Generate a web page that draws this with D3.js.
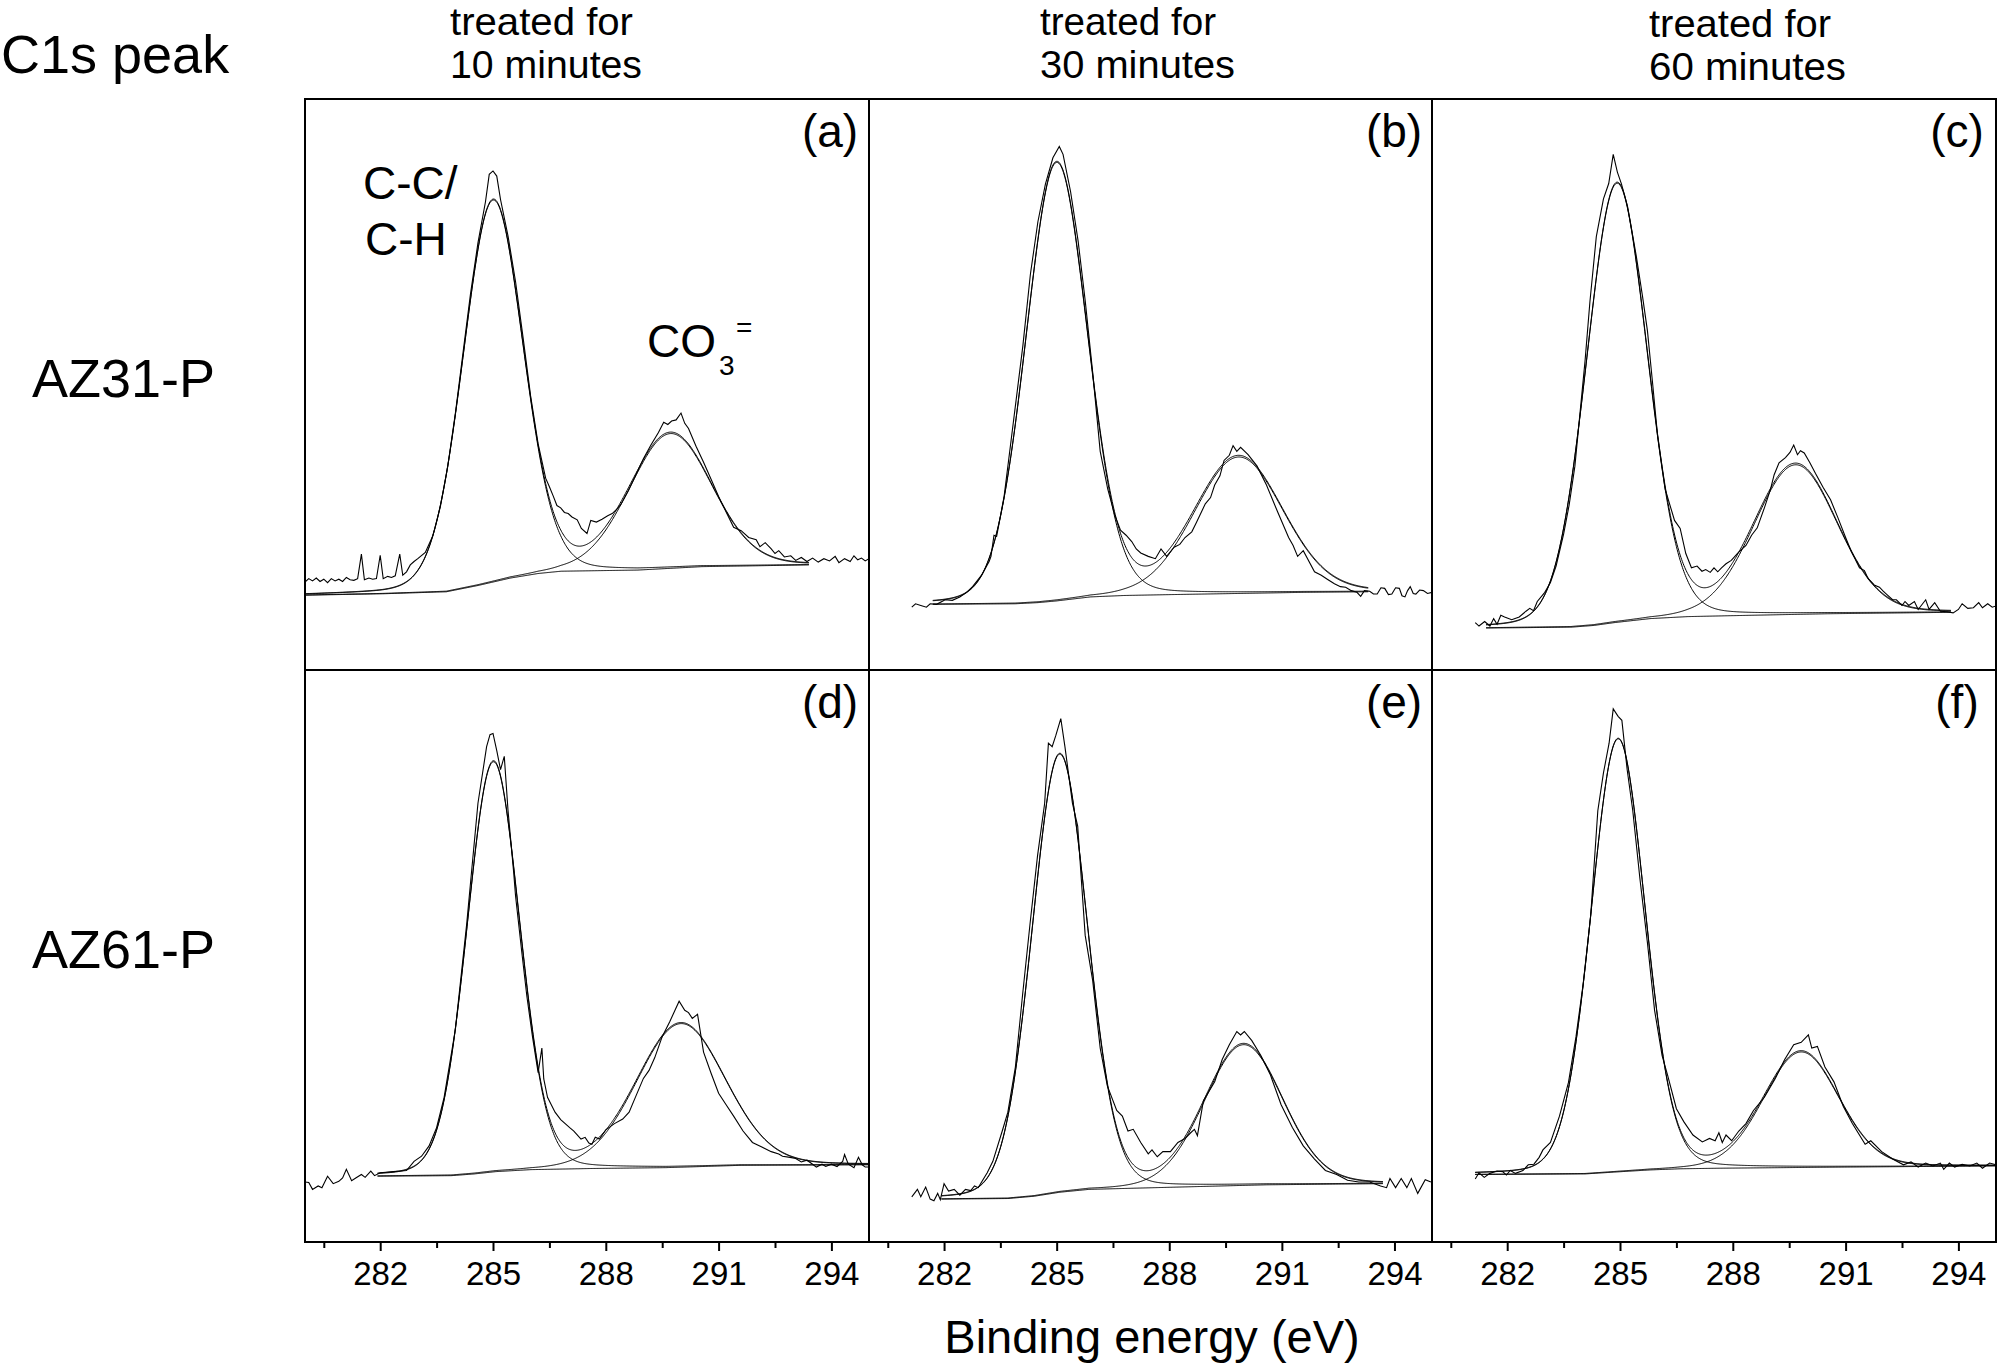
<!DOCTYPE html>
<html><head><meta charset="utf-8">
<script src="https://cdn.jsdelivr.net/npm/d3@7"></script>
<style>
body{margin:0;background:#fff}
svg{display:block}
text{font-family:"Liberation Sans",Arial,sans-serif;fill:#000}
</style>
</head><body>
<svg id="chart" width="1998" height="1365"></svg>
<script>
// ---------------- data ----------------
const panelIds = ["(a)","(b)","(c)","(d)","(e)","(f)"];
const columnHeaders = [["treated for","10 minutes"],["treated for","30 minutes"],["treated for","60 minutes"]];
const rowLabels = ["AZ31-P","AZ61-P"];
const majorTicks = [282,285,288,291,294];
const minorTicks = [280.5,283.5,286.5,289.5,292.5];
const xDomain = [280,295];
const yDomain = [0,100];          // arbitrary intensity units (counts, scaled)
const lorentzFraction = 0.1;

// fitted components per panel: [centre (eV), height above background, sigma (eV)]
const peakCC  = [[285.00,66.9,0.80],[285.00,76.8,0.82],[284.92,76.9,0.81],[285.01,71.7,0.70],[285.08,76.6,0.74],[284.95,75.7,0.72]];
const peakCO3 = [[289.72,23.6,1.10],[289.85,23.9,1.18],[289.67,26.2,1.11],[290.00,25.1,1.18],[289.98,24.6,1.05],[289.82,20.2,1.00]];

// Shirley-type backgrounds [eV, intensity]
const bgA = [[280,13.1],[282.07,13.35],[283.76,13.7],[284.6,14.8],[285.46,16.1],[286.2,16.9],[286.81,17.3],[288.85,17.5],[290.55,18.1],[293.4,18.4]];
const bgB = [[281.7,11.5],[283.9,11.6],[284.5,11.8],[285.0,12.1],[285.9,12.8],[286.8,13.05],[288.0,13.2],[291.6,13.6],[293.3,13.7]];
const bgC = [[281.44,7.35],[283.7,7.5],[284.3,7.8],[284.85,8.3],[285.8,9.0],[286.8,9.35],[287.87,9.5],[290.5,9.85],[293.8,10.1]];
const bgD = [[281.93,11.5],[283.9,11.6],[284.5,11.9],[285.07,12.3],[286.0,12.65],[287.63,12.85],[289.6,13.0],[291.57,13.4],[295,13.5]];
const bgE = [[281.93,7.5],[283.7,7.6],[284.4,8.0],[285.08,8.7],[285.86,9.2],[287.63,9.5],[290.59,10.0],[293.69,10.2]];
const bgF = [[281.15,11.8],[284.07,11.9],[285.04,12.3],[285.8,12.6],[286.6,12.8],[287.67,12.9],[291.0,13.1],[295,13.3]];

// measured spectra [eV, intensity]
const rawA = [[280.0,15.4],[280.1,16.0],[280.2,15.6],[280.3,16.1],[280.4,15.5],[280.5,15.9],[280.6,15.3],[280.7,16.0],[280.8,15.6],[280.9,15.9],[281.0,15.5],[281.1,16.2],[281.2,15.8],[281.3,15.7],[281.4,16.0],[281.5,20.3],[281.58,15.8],[281.7,16.1],[281.8,15.9],[281.9,16.0],[282.0,20.1],[282.08,16.0],[282.2,16.4],[282.3,16.2],[282.4,16.5],[282.52,20.3],[282.6,16.6],[282.7,17.2],[282.8,18.4],[282.9,19.0],[283.0,19.5],[283.2,20.6],[283.4,23.5],[283.6,28.6],[283.8,35.8],[284.0,45.0],[284.2,55.4],[284.4,65.8],[284.6,74.8],[284.8,82.0],[284.9,86.8],[285.0,87.4],[285.1,86.5],[285.2,82.4],[285.4,76.0],[285.6,68.0],[285.8,58.2],[286.0,48.0],[286.2,39.6],[286.4,33.6],[286.5,32.1],[286.6,30.5],[286.7,28.8],[286.8,28.4],[286.9,27.6],[287.0,27.4],[287.1,26.8],[287.24,26.3],[287.35,24.8],[287.5,23.9],[287.6,26.2],[287.75,25.9],[287.9,26.4],[288.05,27.0],[288.17,27.4],[288.3,28.2],[288.4,29.0],[288.6,31.4],[288.8,34.2],[289.0,37.0],[289.2,39.4],[289.4,41.6],[289.54,43.4],[289.65,43.0],[289.75,43.6],[289.87,43.8],[290.0,45.0],[290.1,43.2],[290.2,42.3],[290.4,39.2],[290.6,36.4],[290.8,33.4],[291.0,30.4],[291.22,27.4],[291.4,25.0],[291.6,24.4],[291.8,23.2],[292.0,22.8],[292.1,21.6],[292.24,22.3],[292.4,21.2],[292.5,20.4],[292.6,20.9],[292.75,19.8],[292.92,20.0],[293.05,19.2],[293.2,19.7],[293.35,19.0],[293.5,19.6],[293.65,18.9],[293.8,19.5],[293.95,19.1],[294.1,19.9],[294.2,18.8],[294.35,19.5],[294.5,19.0],[294.6,20.0],[294.7,19.3],[294.8,19.6],[294.9,19.1],[295.0,19.5]];
const rawB = [[281.14,11.0],[281.24,11.6],[281.38,11.3],[281.53,11.0],[281.63,11.6],[281.8,11.5],[282.03,12.3],[282.22,12.2],[282.42,12.8],[282.6,13.6],[282.76,14.6],[283.0,16.6],[283.2,19.0],[283.25,19.9],[283.33,23.6],[283.4,23.4],[283.6,30.4],[283.85,43.6],[284.1,56.8],[284.3,69.3],[284.5,78.5],[284.7,85.1],[284.9,89.7],[285.07,91.7],[285.17,90.3],[285.37,83.8],[285.57,75.2],[285.76,64.7],[285.96,52.1],[286.16,38.3],[286.36,31.7],[286.55,27.1],[286.7,24.5],[286.85,23.6],[287.0,22.5],[287.12,21.2],[287.24,20.5],[287.44,19.9],[287.63,19.5],[287.78,21.2],[287.93,19.9],[288.13,21.5],[288.28,22.0],[288.42,23.2],[288.6,24.2],[288.72,25.8],[288.96,29.1],[289.1,30.2],[289.21,32.4],[289.35,34.0],[289.46,36.7],[289.6,37.6],[289.7,39.3],[289.8,38.3],[289.9,39.0],[290.1,37.7],[290.34,35.7],[290.59,32.4],[290.88,27.8],[291.18,23.2],[291.3,21.8],[291.42,19.9],[291.57,20.9],[291.87,17.2],[292.05,16.6],[292.21,15.9],[292.4,15.1],[292.56,14.6],[292.7,14.5],[292.85,13.9],[293.0,13.6],[293.1,12.9],[293.2,13.9],[293.34,13.8],[293.44,13.3],[293.54,13.3],[293.64,14.4],[293.74,14.3],[293.84,13.2],[293.93,13.3],[294.03,14.4],[294.13,14.3],[294.2,13.0],[294.28,12.8],[294.35,13.9],[294.42,14.6],[294.5,13.4],[294.57,13.3],[294.67,14.0],[294.77,13.9],[294.88,13.4],[295.0,13.6]];
const rawC = [[281.15,8.3],[281.25,7.7],[281.4,8.5],[281.54,7.7],[281.64,9.0],[281.73,8.0],[281.83,9.6],[281.93,9.3],[282.12,8.8],[282.32,9.3],[282.5,10.3],[282.6,10.8],[282.7,10.4],[282.8,12.0],[283.0,13.6],[283.15,15.3],[283.3,18.2],[283.5,23.8],[283.65,29.0],[283.8,35.7],[284.07,54.1],[284.2,64.5],[284.37,75.9],[284.56,82.5],[284.7,85.2],[284.82,90.3],[284.93,87.2],[285.04,85.1],[285.2,81.2],[285.43,72.6],[285.6,65.4],[285.73,59.4],[285.87,50.0],[286.0,41.0],[286.2,31.7],[286.35,28.4],[286.45,26.2],[286.6,24.8],[286.75,20.4],[286.9,17.9],[287.05,18.2],[287.18,17.3],[287.28,17.6],[287.4,17.1],[287.5,17.9],[287.6,17.2],[287.7,17.9],[287.82,18.6],[287.96,19.2],[288.15,20.6],[288.35,21.8],[288.5,23.6],[288.65,24.9],[288.84,28.4],[289.0,31.6],[289.1,34.2],[289.23,36.3],[289.4,37.2],[289.52,38.1],[289.62,39.4],[289.72,37.7],[289.8,38.4],[289.9,38.0],[290.05,36.3],[290.2,34.4],[290.4,32.0],[290.6,29.8],[290.8,26.6],[291.0,23.2],[291.15,20.8],[291.25,19.5],[291.37,17.9],[291.5,17.4],[291.6,16.0],[291.76,14.9],[291.9,14.5],[292.0,13.8],[292.1,13.2],[292.25,12.3],[292.35,12.3],[292.5,11.3],[292.58,12.0],[292.68,11.3],[292.83,12.0],[292.93,10.6],[293.13,12.3],[293.22,10.6],[293.37,11.8],[293.52,10.3],[293.7,10.2],[293.86,10.0],[294.0,10.6],[294.1,11.6],[294.25,10.8],[294.4,10.9],[294.54,11.8],[294.64,10.9],[294.78,11.6],[294.9,11.0],[295.0,11.2]];
const rawD = [[280.0,10.5],[280.1,10.4],[280.2,9.2],[280.35,9.8],[280.45,9.5],[280.6,11.5],[280.75,10.2],[280.9,10.6],[281.0,11.2],[281.1,12.7],[281.24,10.7],[281.35,11.2],[281.5,11.8],[281.6,11.3],[281.75,12.4],[281.85,11.6],[282.0,12.1],[282.15,12.2],[282.35,12.3],[282.55,12.4],[282.7,12.5],[282.9,14.1],[283.1,15.0],[283.3,16.8],[283.5,20.0],[283.7,25.3],[284.0,37.2],[284.3,55.6],[284.6,76.7],[284.83,86.6],[284.92,88.7],[285.0,88.9],[285.1,85.9],[285.2,82.6],[285.3,84.9],[285.4,75.4],[285.55,64.6],[285.6,60.5],[285.76,51.0],[285.9,43.0],[286.05,35.9],[286.2,29.6],[286.3,33.9],[286.35,28.5],[286.45,25.3],[286.55,24.0],[286.65,22.7],[286.8,21.4],[287.04,20.0],[287.15,19.4],[287.34,18.0],[287.45,18.3],[287.55,17.3],[287.63,17.1],[287.72,18.3],[287.83,18.0],[288.0,19.6],[288.23,20.7],[288.45,21.5],[288.62,22.7],[288.8,25.5],[289.0,28.6],[289.15,30.0],[289.3,32.2],[289.5,35.9],[289.7,38.5],[289.95,42.1],[290.1,40.5],[290.2,40.1],[290.3,39.1],[290.44,39.8],[290.6,33.2],[290.8,29.5],[291.0,26.0],[291.2,24.0],[291.4,22.0],[291.65,19.4],[291.9,17.4],[292.15,16.6],[292.4,15.8],[292.6,15.4],[292.7,15.0],[292.9,14.8],[293.05,14.6],[293.2,14.0],[293.35,14.3],[293.5,13.6],[293.6,13.1],[293.75,13.6],[293.85,13.2],[294.0,13.6],[294.15,13.2],[294.3,14.1],[294.35,15.3],[294.45,13.6],[294.6,13.0],[294.72,14.8],[294.82,13.5],[294.9,13.1],[295.0,13.1]];
const rawE = [[281.14,7.9],[281.29,9.2],[281.38,7.9],[281.51,9.6],[281.63,7.5],[281.73,7.2],[281.83,8.5],[281.9,7.4],[282.0,10.2],[282.12,8.9],[282.27,9.2],[282.42,8.2],[282.57,9.2],[282.71,9.0],[282.81,9.8],[282.91,9.5],[283.0,10.5],[283.15,12.1],[283.3,14.1],[283.55,19.4],[283.7,22.7],[283.9,30.6],[284.09,43.1],[284.29,55.6],[284.49,67.5],[284.68,76.7],[284.78,87.2],[284.88,86.6],[284.98,88.6],[285.11,91.5],[285.22,86.6],[285.42,76.7],[285.56,72.7],[285.76,53.6],[285.96,45.7],[286.16,33.9],[286.35,27.3],[286.6,23.0],[286.75,22.0],[286.9,19.4],[287.04,19.7],[287.24,17.4],[287.44,15.4],[287.54,16.1],[287.68,14.9],[287.83,15.8],[288.03,15.8],[288.23,17.4],[288.42,18.1],[288.57,19.1],[288.67,19.7],[288.75,18.6],[288.91,24.7],[289.21,28.0],[289.41,31.9],[289.6,34.5],[289.8,36.8],[289.9,36.2],[290.0,36.8],[290.2,35.2],[290.44,32.6],[290.69,29.3],[290.98,24.0],[291.28,20.0],[291.57,16.8],[291.87,14.5],[292.16,12.5],[292.46,11.8],[292.75,10.8],[293.05,10.5],[293.34,10.5],[293.63,9.8],[293.79,9.5],[293.88,11.1],[294.03,9.5],[294.18,11.1],[294.33,9.5],[294.45,11.1],[294.62,8.5],[294.82,10.9],[294.97,10.5]];
const rawF = [[281.15,11.0],[281.25,12.1],[281.39,11.3],[281.54,12.0],[281.73,12.4],[281.88,12.3],[281.98,11.7],[282.08,12.5],[282.22,12.0],[282.42,12.5],[282.56,13.5],[282.71,13.6],[282.85,14.8],[282.95,16.1],[283.15,17.4],[283.39,22.0],[283.63,27.9],[283.83,35.9],[284.02,45.1],[284.22,57.0],[284.41,75.4],[284.56,82.0],[284.71,87.2],[284.82,93.2],[284.95,91.9],[285.05,91.2],[285.19,82.6],[285.34,75.4],[285.53,63.5],[285.73,52.3],[285.92,40.5],[286.12,32.6],[286.26,29.3],[286.5,23.3],[286.7,21.0],[286.94,18.7],[287.19,17.5],[287.38,18.1],[287.53,17.7],[287.63,19.1],[287.72,17.4],[287.82,18.7],[287.97,17.7],[288.16,19.4],[288.35,20.7],[288.55,23.0],[288.84,25.3],[289.13,28.6],[289.38,31.9],[289.62,34.5],[289.82,34.9],[290.01,36.2],[290.1,33.9],[290.25,34.2],[290.45,30.6],[290.69,28.0],[290.94,23.7],[291.18,20.7],[291.52,17.1],[291.67,17.7],[291.96,15.8],[292.25,14.5],[292.54,13.5],[292.74,14.0],[292.93,13.1],[293.13,13.8],[293.32,13.3],[293.52,13.8],[293.61,12.7],[293.76,13.8],[293.9,13.1],[294.1,13.6],[294.3,13.3],[294.49,13.8],[294.64,12.9],[294.83,13.8],[295.0,13.5]];

const backgrounds = [bgA,bgB,bgC,bgD,bgE,bgF];
const spectra = [rawA,rawB,rawC,rawD,rawE,rawF];

// ---------------- layout ----------------
const colEdges = [305,869,1432,1996];
const rowEdges = [99,670,1242];
const svg = d3.select("#chart");
const defs = svg.append("defs");

function glPeak(x, p){
  const d = x - p[0], s = p[2], g = Math.exp(-d*d/(2*s*s));
  const hw = 1.1774*s, l = 1/(1 + (d/hw)*(d/hw));
  return p[1]*((1-lorentzFraction)*g + lorentzFraction*l);
}

panelIds.forEach((id,i)=>{
  const col = i%3, row = Math.floor(i/3);
  const x0 = colEdges[col], x1 = colEdges[col+1];
  const y0 = rowEdges[row], y1 = rowEdges[row+1];
  const x = d3.scaleLinear().domain(xDomain).range([x0,x1]);
  const y = d3.scaleLinear().domain(yDomain).range([y1,y0]);
  defs.append("clipPath").attr("id","clip"+i).append("rect")
    .attr("x",x0).attr("y",y0).attr("width",x1-x0).attr("height",y1-y0);
  const g = svg.append("g").attr("clip-path",`url(#clip${i})`);

  const bg = backgrounds[i];
  const bgScale = d3.scaleLinear().domain(bg.map(d=>d[0])).range(bg.map(d=>d[1])).clamp(true);
  const grid = d3.range(bg[0][0], bg[bg.length-1][0]+1e-9, 0.02);
  const line = d3.line().x(d=>x(d[0])).y(d=>y(d[1]));
  const fits = [
    grid.map(e=>[e,bgScale(e)]),
    grid.map(e=>[e,bgScale(e)+glPeak(e,peakCC[i])]),
    grid.map(e=>[e,bgScale(e)+glPeak(e,peakCO3[i])]),
    grid.map(e=>[e,bgScale(e)+glPeak(e,peakCC[i])+glPeak(e,peakCO3[i])])
  ];
  g.selectAll("path.fit").data(fits).join("path").attr("class","fit")
    .attr("d",line).attr("fill","none").attr("stroke","#000").attr("stroke-width",1.0);
  g.append("path").datum(spectra[i]).attr("d",line)
    .attr("fill","none").attr("stroke","#000").attr("stroke-width",1.1).attr("stroke-linejoin","miter");

  svg.append("text").attr("x",x0+525).attr("y",y0+48).attr("text-anchor","middle")
    .attr("font-size",46).text(id);

  if(row===1){
    const axMajor = d3.axisBottom(x).tickValues(majorTicks).tickSize(9).tickPadding(4).tickFormat(d3.format("d"));
    const gm = svg.append("g").attr("transform",`translate(0,${y1})`).call(axMajor);
    gm.select(".domain").remove();
    gm.selectAll("line").attr("stroke","#000").attr("stroke-width",2);
    gm.selectAll("text").attr("y",43).attr("dy",null).attr("font-size",33)
      .attr("font-family","'Liberation Sans',Arial,sans-serif").attr("fill","#000");
    const axMinor = d3.axisBottom(x).tickValues(minorTicks).tickSize(6).tickFormat("");
    const gn = svg.append("g").attr("transform",`translate(0,${y1})`).call(axMinor);
    gn.select(".domain").remove();
    gn.selectAll("line").attr("stroke","#000").attr("stroke-width",2);
  }
});

// frame
const frame = svg.append("g").attr("stroke","#000").attr("stroke-width",2).attr("fill","none");
frame.append("rect").attr("x",colEdges[0]).attr("y",rowEdges[0])
  .attr("width",colEdges[3]-colEdges[0]).attr("height",rowEdges[2]-rowEdges[0]);
[colEdges[1],colEdges[2]].forEach(cx=>frame.append("line").attr("x1",cx).attr("x2",cx).attr("y1",rowEdges[0]).attr("y2",rowEdges[2]));
frame.append("line").attr("x1",colEdges[0]).attr("x2",colEdges[3]).attr("y1",rowEdges[1]).attr("y2",rowEdges[1]);

// titles
svg.append("text").attr("x",1).attr("y",73).attr("font-size",54).text("C1s peak");
const headerX = [450,1040,1649];
const headerY = [[35,78],[35,78],[37,80]];
const headerWidth = [[183,192],[176,195],[182,197]];
columnHeaders.forEach((lines,c)=>{
  lines.forEach((t,k)=>svg.append("text").attr("x",headerX[c]).attr("y",headerY[c][k])
    .attr("font-size",38.5).attr("textLength",headerWidth[c][k]).attr("lengthAdjust","spacingAndGlyphs").text(t));
});
const rowLabelY = [397,968];
rowLabels.forEach((t,r)=>svg.append("text").attr("x",32).attr("y",rowLabelY[r]).attr("font-size",54).text(t));
svg.append("text").attr("x",1152).attr("y",1353).attr("text-anchor","middle").attr("font-size",47).text("Binding energy (eV)");

// peak annotations in panel (a)
svg.append("text").attr("x",363).attr("y",199).attr("font-size",46).text("C-C/");
svg.append("text").attr("x",365).attr("y",255).attr("font-size",46).text("C-H");
svg.append("text").attr("x",647).attr("y",357).attr("font-size",46).text("CO");
svg.append("text").attr("x",719).attr("y",375).attr("font-size",28).text("3");
svg.append("text").attr("x",736).attr("y",337).attr("font-size",28).text("=");
</script>
</body></html>
